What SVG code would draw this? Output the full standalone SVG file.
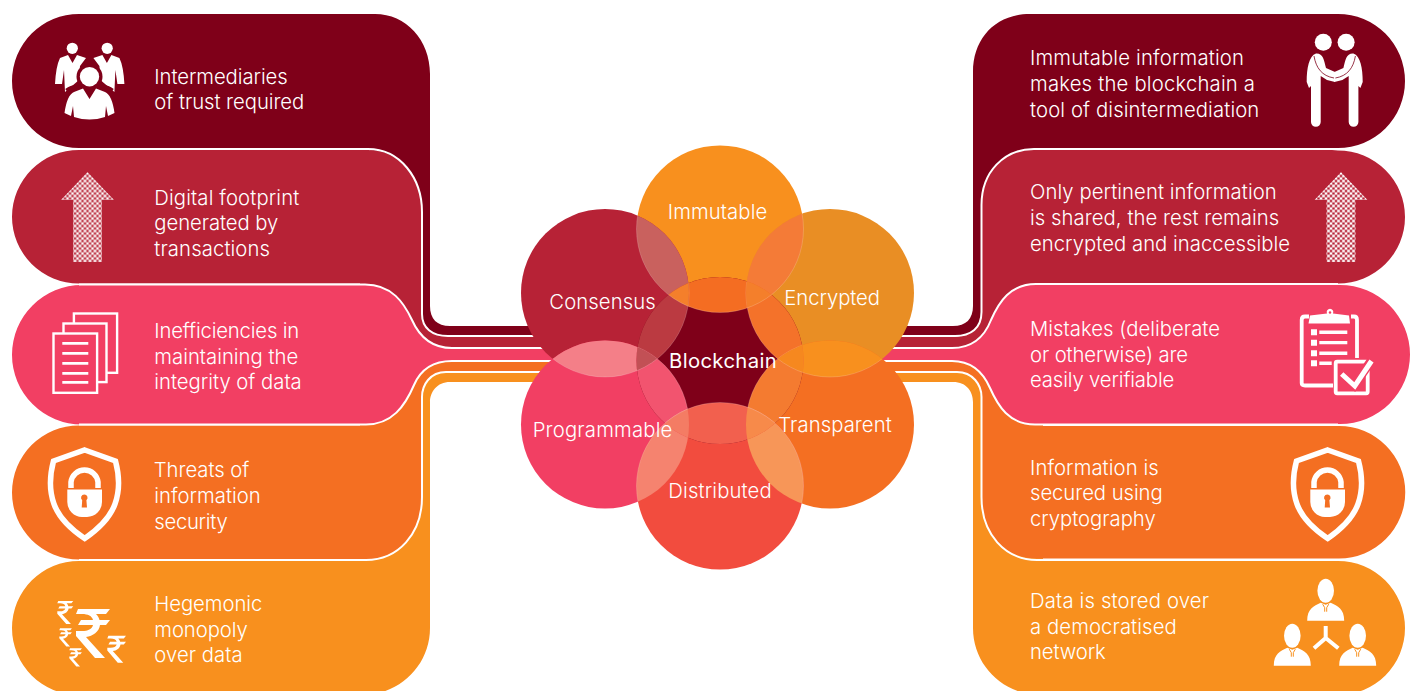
<svg xmlns="http://www.w3.org/2000/svg" xmlns:xlink="http://www.w3.org/1999/xlink" width="1413" height="691" viewBox="0 0 1413 691">
<style>
text{font-family:Inter,"Liberation Sans",Arial,sans-serif;font-weight:300;font-size:20.3px;fill:#fff}
.dark{fill:#7F0019}.crim{fill:#B72236}.pink{fill:#F23F63}.orng{fill:#F46F22}.ambr{fill:#F8901E}
.wl{fill:none;stroke:#fff;stroke-width:2}
.lens{stroke:#fff;stroke-opacity:.3;stroke-width:.6}
.w{fill:#fff}
</style>
<defs>
<pattern id="dots" patternUnits="userSpaceOnUse" x="87.5" y="173.5" width="5" height="5">
<rect x="-1.3" y="-1.3" width="2.6" height="2.6" fill="#fff"/><rect x="3.7" y="-1.3" width="2.6" height="2.6" fill="#fff"/><rect x="-1.3" y="3.7" width="2.6" height="2.6" fill="#fff"/><rect x="3.7" y="3.7" width="2.6" height="2.6" fill="#fff"/><rect x="1.2" y="1.2" width="2.6" height="2.6" fill="#fff"/>
</pattern>
<polygon id="arrow" points="87.5,172 114,200 102,200 102,262 73,262 73,200 61,200" fill="url(#dots)"/>
<g id="shield">
<path d="M84.7 450L115.5 461C120 478 119 493 115 504C110 518 97 530 84.7 538.5C72 530 59 518 54 504C50 493 49 478 53.5 461Z" fill="none" stroke="#fff" stroke-width="5.5"/>
<path d="M71 488V482A13.6 13.6 0 0 1 98 482V488" fill="none" stroke="#fff" stroke-width="5.5"/>
<path class="w" d="M67.3 489.5H102V502A15 15 0 0 1 87 517H82A15 15 0 0 1 67.3 502Z"/>
<path class="orng" d="M84.3 494.4A3.3 3.3 0 0 1 86.4 500.2L87 507.5H81.7L82.2 500.2A3.3 3.3 0 0 1 84.3 494.4Z"/>
</g>
<path id="rupee" class="w" d="M2 0H34L30 5H20C22 7 23 9 23.5 11H34L30 16H24C23 23 17 27 10 28L29 49H19L0 27V22H6C12 22 16 20 17 16H2L5 11H17C16 7 12 5 6 5H0Z"/>
<g id="person">
<ellipse class="w" cx="0" cy="0" rx="8.3" ry="12"/>
<path class="w" d="M-18.5 30C-18.5 18-12 15.5-5 12L0 14L5 12C12 15.5 18.5 18 18.5 30Z"/>
<path d="M-3 13.5L-1 17V21M3 13.5L1 17V21" fill="none" stroke="#F8901E" stroke-width="1"/>
</g>
<g id="shaker">
<path class="w" d="M1316 53.5C1309 56 1306.7 68 1306.7 82L1309 88L1311 86V122A4.8 4.8 0 0 0 1320.7 122V76L1327 80L1335 82V72L1326 68C1324 60 1323 53 1316 53.5Z"/>
<path d="M1314 56C1316 68 1322 76 1334 78" fill="none" stroke="#7F0019" stroke-width=".8"/>
<circle class="w" cx="1323.3" cy="42.3" r="8.5"/>
</g>
<path id="backman" class="w" d="M60 58L68 55L72.5 63L77 55L86 58L80 66L79 80L65 92L64 70L62 84L55 84Q56 66 60 58Z"/>
<clipPath id="cI"><circle cx="720" cy="229" r="83.5"/></clipPath>
<clipPath id="cC"><circle cx="605" cy="293" r="84"/></clipPath>
<clipPath id="cE"><circle cx="830" cy="293" r="84"/></clipPath>
<clipPath id="cP"><circle cx="605" cy="424.5" r="84"/></clipPath>
<clipPath id="cT"><circle cx="830" cy="424.5" r="84"/></clipPath>
<clipPath id="cD"><circle cx="720" cy="486" r="83.5"/></clipPath>
<clipPath id="cB"><circle cx="720" cy="360.5" r="83.5"/></clipPath>
</defs>

<g id="left-1">
<path class="dark" d="M79 14H375C406 14 430 40 430 74V306C430 319 437 326 450 326H620V335H420V210L368 148H79A67 67 0 0 1 79 14Z"/>
<g id="icon-people">
<use href="#backman"/><use href="#backman" transform="translate(179.4) scale(-1 1)"/>
<circle class="w" cx="72.3" cy="48.3" r="5.6"/><circle class="w" cx="107.2" cy="48.3" r="5.6"/>
<circle class="dark" cx="89.5" cy="76.7" r="13"/>
<path id="front-body" class="w" d="M74 92L83 88.5L89.5 99L96 88.5L105 92Q112 95 114.5 113L108 116L106 106L105 117Q89.5 122 74 117L73 106L71 116L64.5 113Q67 95 74 92Z"/>
<path d="M66 90Q74 84 81 87.5M113 90Q105 84 98 87.5" fill="none" stroke="#7F0019" stroke-width="2.6"/>
<circle class="w" cx="89.5" cy="76.7" r="9.7"/>
</g>
<text x="154.3" y="84" textLength="133.4">Intermediaries</text>
<text x="154.3" y="109" textLength="150">of trust required</text>
</g>
<g id="left-2">
<path class="crim" d="M79 150H368C400 150 422 178 422 212V314C422 328 432 336 448 336H620V350H360V283.5H79A67 66.75 0 0 1 79 150Z"/>
<use href="#arrow"/>
<text x="154.3" y="205" textLength="145">Digital footprint</text>
<text x="154.3" y="230" textLength="124">generated by</text>
<text x="154.3" y="256" textLength="115.7">transactions</text>
</g>
<g id="left-5">
<path class="ambr" d="M79 561H360V373H620V382H450C437 382 430 392 430 402V628C430 665 400 695 362 695H79A67 67 0 0 1 79 561Z"/>
<use href="#rupee" transform="translate(76 609)"/>
<use href="#rupee" transform="translate(57.3 601) scale(.47)"/>
<use href="#rupee" transform="translate(59.3 628.3) scale(.37)"/>
<use href="#rupee" transform="translate(69.3 648.3) scale(.37)"/>
<use href="#rupee" transform="translate(107.3 635.7) scale(.55)"/>
<text x="154.3" y="611" textLength="108">Hegemonic</text>
<text x="154.3" y="636.7" textLength="93.4">monopoly</text>
<text x="154.3" y="662" textLength="88.4">over data</text>
</g>
<g id="left-4">
<path class="orng" d="M79 425.5H360V361H620V372H446C430 372 422 385 422 397V497C422 534 398 559.5 366 559.5H79A67 67 0 0 1 79 425.5Z"/>
<use href="#shield"/>
<text x="153.7" y="476.7" textLength="95.6">Threats of</text>
<text x="154.3" y="503" textLength="106.4">information</text>
<text x="154.3" y="529" textLength="73.4">security</text>
</g>
<g id="left-3">
<path class="pink" d="M82 285H365C392 285 404 303 412 320C420 338 432 348 452 348H620V361H452C432 361 420 371 414 385C405 406 392 424.5 366 424.5H82A70 69.75 0 0 1 82 285Z"/>
<g id="icon-docs" fill="#F23F63" stroke="#fff" stroke-width="2.4">
<rect x="73.9" y="313.5" width="43.2" height="59.3"/>
<rect x="63.5" y="323.5" width="43" height="58.6"/>
<rect x="53.5" y="333.5" width="43.6" height="59.3"/>
<path d="M62.3 343.3H88.3M62.3 353.3H88.3M62.3 363.3H88.3M62.3 373.3H88.3M62.3 382.3H88.3" stroke-width="2.7"/>
</g>
<text x="154.3" y="338" textLength="145">Inefficiencies in</text>
<text x="154.3" y="364" textLength="144">maintaining the</text>
<text x="154.3" y="389.3" textLength="147.4">integrity of data</text>
</g>

<g id="right-1">
<path class="dark" d="M1338 14A67 67 0 0 1 1338 148H1040L983 210V335H800V326H953C966 326 973 319 973 306V72C973 38 996 14 1030 14Z"/>
<use href="#shaker"/><use href="#shaker" transform="translate(2669.4) scale(-1 1)"/>
<text x="1030" y="65" textLength="214">Immutable information</text>
<text x="1030" y="91" textLength="225">makes the blockchain a</text>
<text x="1030" y="117" textLength="229.3">tool of disintermediation</text>
</g>
<g id="right-2">
<path class="crim" d="M1338 150.5A67 66.5 0 0 1 1338 283.5H1043V350H800V336.5H955C971 336.5 981.5 328 981.5 312V205C981.5 172 1004 149 1034 149H1320Z"/>
<use href="#arrow" transform="translate(1253.5)"/>
<text x="1030" y="199" textLength="246.7">Only pertinent information</text>
<text x="1030" y="225" textLength="249.3">is shared, the rest remains</text>
<text x="1030" y="250.7" textLength="260">encrypted and inaccessible</text>
</g>
<g id="right-5">
<path class="ambr" d="M1338 561A67 67 0 0 1 1338 695H1041C1003 695 973 665 973 628V402C973 392 967 382 953 382H800V373H1043V561Z"/>
<use href="#person" x="1325.7" y="590.7"/>
<use href="#person" x="1292.3" y="635.7"/>
<use href="#person" x="1357.7" y="635.7"/>
<path d="M1325.7 626V638L1314 648.3M1325.7 638L1338.3 648.3" fill="none" stroke="#fff" stroke-width="4"/>
<text x="1030" y="608" textLength="179">Data is stored over</text>
<text x="1030" y="634" textLength="146.7">a democratised</text>
<text x="1030" y="659.3" textLength="75.7">network</text>
</g>
<g id="right-4">
<path class="orng" d="M1339 426A66 66 0 0 1 1339 558.5H1037C1005 559 981.5 534 981.5 497V397C981.5 385 973 372 957 372H800V361H1043V426Z"/>
<use href="#shield" transform="translate(1243)"/>
<text x="1030" y="475" textLength="128.7">Information is</text>
<text x="1030" y="500.3" textLength="132.7">secured using</text>
<text x="1030" y="526" textLength="125.7">cryptography</text>
</g>
<g id="right-3">
<path class="pink" d="M1340 285A70 69.5 0 0 1 1340 424H1035C1009 424 998 406 990 388C983 372 972 361 952 361H800V348H952C972 348 984 338 991 320C999 302 1010 284 1036 284Z"/>
<g id="icon-clipboard">
<path d="M1309 316.5H1305Q1301.7 316.5 1301.7 320V383Q1301.7 385.5 1305 385.5H1333M1351 316.5H1354Q1357 316.5 1357 320V358" fill="none" stroke="#fff" stroke-width="3.8"/>
<path class="w" d="M1310 315.5L1327 313.5A3.3 3.3 0 1 1 1333 313.5L1349 315.5L1350 323.5H1308.5Z"/>
<circle class="pink" cx="1330" cy="312.5" r="1.2"/>
<path class="w" d="M1311 329.3h6v6h-6zM1311 339.7h6v6h-6zM1311 350.3h6v6h-6zM1311 360.3h6v6h-6zM1319.3 330.6h28v3.3h-28zM1319.3 341h28v3.3h-28zM1319.3 351.6h28v3.3h-28zM1319.3 361.6h12.4v3.3h-12.4z"/>
<rect class="pink" x="1335.7" y="361.7" width="32" height="31.6" rx="1.5" stroke="#fff" stroke-width="3.8"/>
<path d="M1341.7 372L1354.5 385L1371 361" fill="none" stroke="#F23F63" stroke-width="9"/>
<path d="M1341.7 374L1354.8 386L1371.5 361" fill="none" stroke="#fff" stroke-width="5"/>
</g>
<text x="1030" y="335.7" textLength="190">Mistakes (deliberate</text>
<text x="1030" y="362" textLength="158">or otherwise) are</text>
<text x="1030" y="387.3" textLength="144.3">easily verifiable</text>
</g>

<g id="connectors">
<path class="wl" d="M620 336H448C432 336 422 328 422 314V212C422 178 400 149 368 149H79"/>
<path class="wl" d="M620 348H452C432 348 420 338 412 320C404 303 392 284.5 365 284.5H79"/>
<path class="wl" d="M620 361H452C432 361 420 371 414 385C405 406 392 424.5 366 424.5H79"/>
<path class="wl" d="M620 372H446C430 372 422 385 422 397V497C422 534 398 560 366 560H79"/>
<path class="wl" d="M800 336H955C971 336 981.5 328 981.5 312V205C981.5 172 1004 149 1034 149H1335"/>
<path class="wl" d="M800 348H952C972 348 984 338 991 320C999 302 1010 284 1036 284H1338"/>
<path class="wl" d="M800 361H952C972 361 983 372 990 388C998 406 1009 424.5 1035 424.5H1338"/>
<path class="wl" d="M800 372H957C973 372 981.5 385 981.5 397V497C981.5 534 1005 560 1037 560H1338"/>
</g>

<g id="hub">
<g id="circle-immutable"><circle cx="720" cy="229" r="83.5" fill="#F8901E"/></g>
<g id="circle-consensus"><circle cx="605" cy="293" r="84" fill="#B72236"/></g>
<g id="circle-encrypted"><circle cx="830" cy="293" r="84" fill="#E98E24"/></g>
<g id="circle-programmable"><circle cx="605" cy="424.5" r="84" fill="#F23F63"/></g>
<g id="circle-transparent"><circle cx="830" cy="424.5" r="84" fill="#F46F22"/></g>
<g id="circle-distributed"><circle cx="720" cy="486" r="83.5" fill="#F24C3E"/></g>
<g id="circle-blockchain"><circle cx="720" cy="360.5" r="83.5" fill="#7F0019"/></g>
<g class="lens">
<circle cx="720" cy="229" r="83.5" fill="#C9615E" clip-path="url(#cC)"/>
<circle cx="720" cy="229" r="83.5" fill="#F47B37" clip-path="url(#cE)"/>
<circle cx="605" cy="293" r="84" fill="#F47F88" clip-path="url(#cP)"/>
<circle cx="830" cy="293" r="84" fill="#F8901E" clip-path="url(#cT)"/>
<circle cx="720" cy="486" r="83.5" fill="#F5836F" clip-path="url(#cP)"/>
<circle cx="720" cy="486" r="83.5" fill="#F79658" clip-path="url(#cT)"/>
<circle cx="720" cy="229" r="83.5" fill="#F46D22" clip-path="url(#cB)"/>
<circle cx="605" cy="293" r="84" fill="#BB3A41" clip-path="url(#cB)"/>
<circle cx="830" cy="293" r="84" fill="#F4722A" clip-path="url(#cB)"/>
<circle cx="605" cy="424.5" r="84" fill="#F2546F" clip-path="url(#cB)"/>
<circle cx="830" cy="424.5" r="84" fill="#F47B30" clip-path="url(#cB)"/>
<circle cx="720" cy="486" r="83.5" fill="#F2604E" clip-path="url(#cB)"/>
<g clip-path="url(#cB)">
<circle cx="720" cy="229" r="83.5" fill="#F47F2B" clip-path="url(#cC)"/>
<circle cx="720" cy="229" r="83.5" fill="#F47F2B" clip-path="url(#cE)"/>
<circle cx="605" cy="293" r="84" fill="#C25055" clip-path="url(#cP)"/>
<circle cx="830" cy="293" r="84" fill="#F6881F" clip-path="url(#cT)"/>
<circle cx="720" cy="486" r="83.5" fill="#F47C64" clip-path="url(#cP)"/>
<circle cx="720" cy="486" r="83.5" fill="#F78A4A" clip-path="url(#cT)"/>
</g>
</g>
<text x="667.7" y="219" textLength="99.6">Immutable</text>
<text x="549.3" y="309" textLength="106.4">Consensus</text>
<text x="784.3" y="305" textLength="95.7">Encrypted</text>
<text x="669" y="368.3" textLength="107.7" style="font-weight:400">Blockchain</text>
<text x="532.7" y="436.7" textLength="139.6">Programmable</text>
<text x="778.3" y="431.7" textLength="113.4">Transparent</text>
<text x="668.3" y="498.3" textLength="103.4">Distributed</text>
</g>
</svg>
